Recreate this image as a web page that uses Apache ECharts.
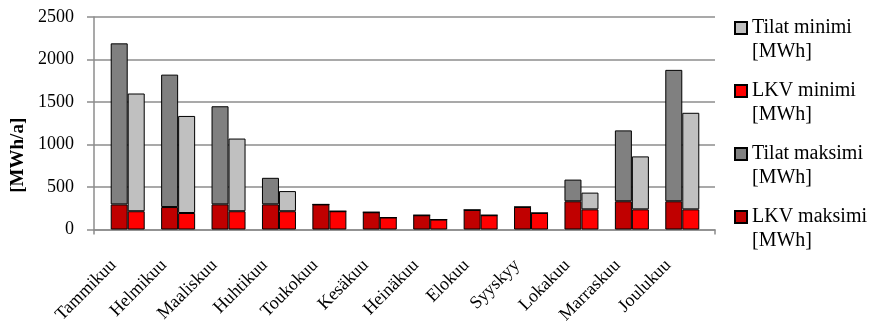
<!DOCTYPE html>
<html>
<head>
<meta charset="utf-8">
<script src="https://cdn.jsdelivr.net/npm/echarts@6/dist/echarts.min.js"></script>
<style>
html, body { margin: 0; padding: 0; background: #fff; }
#chart { width: 872px; height: 323px; }
</style>
</head>
<body>
<div id="chart"></div>
<script>
// months on the category axis
var months = ['Tammikuu', 'Helmikuu', 'Maaliskuu', 'Huhtikuu', 'Toukokuu', 'Kesäkuu',
  'Heinäkuu', 'Elokuu', 'Syyskyy', 'Lokakuu', 'Marraskuu', 'Joulukuu']

// values (MWh)
var lkvMaksimi = [295, 264, 296, 296, 295, 203, 168, 230, 265, 332, 332, 332]
var tilatMaksimi = [1895, 1558, 1154, 312, 0, 0, 0, 0, 0, 255, 834, 1546]
var lkvMinimi = [215, 194, 215, 215, 215, 141, 117, 168, 194, 237, 237, 237]
var tilatMinimi = [1385, 1142, 855, 237, 0, 0, 0, 0, 0, 197, 623, 1136]

var yTicks = [0, 500, 1000, 1500, 2000, 2500]

var serif = 'Liberation Serif'
var axisGray = '#8c8c8c'
var border = { borderColor: '#000', borderWidth: 1 }

function bar(name, stack, data, color) {
  return {
    name: name,
    type: 'bar',
    stack: stack,
    data: data,
    xAxisIndex: 1,
    yAxisIndex: 1,
    barWidth: 17,
    barGap: '0%',
    itemStyle: Object.assign({ color: color }, border)
  }
}

var yMin = yTicks[0]
var yMax = yTicks[yTicks.length - 1]

var chart = echarts.init(document.getElementById('chart'))
chart.setOption({
  animation: false,
  textStyle: { fontFamily: serif },
  // grid 0 = frame (axes + gridlines), grid 1 = bars (Excel leaves extra room at both ends)
  grid: [
    { left: 94, right: 157, top: 17, bottom: 93.5, outerBoundsMode: 'none' },
    { left: 102.5, right: 164.5, top: 17, bottom: 93.5, outerBoundsMode: 'none' }
  ],
  legend: {
    orient: 'vertical',
    left: 734,
    top: -8,
    padding: 0,
    itemGap: -9,
    itemWidth: 12,
    itemHeight: 12,
    icon: 'rect',
    data: ['Tilat minimi', 'LKV minimi', 'Tilat maksimi', 'LKV maksimi'],
    formatter: function (n) { return '\n' + n + '\n[MWh]' },
    textStyle: { fontFamily: serif, fontSize: 20, color: '#000', lineHeight: 24 }
  },
  xAxis: [
    {
      // only the frame line with a small tick at each end
      gridIndex: 0,
      type: 'value',
      min: 0,
      max: 1,
      interval: 1,
      axisLine: { show: true, lineStyle: { color: axisGray, width: 1.5 } },
      axisTick: { show: true, length: 5, lineStyle: { color: axisGray, width: 1.5 } },
      axisLabel: { show: false },
      splitLine: { show: false }
    },
    {
      gridIndex: 1,
      type: 'category',
      data: months,
      axisLine: { show: false },
      axisTick: { show: false },
      axisLabel: {
        rotate: 45, fontSize: 18, color: '#000', fontFamily: serif,
        margin: 19, interval: 0, padding: [0, 20, 0, 0]
      }
    }
  ],
  yAxis: [
    {
      gridIndex: 0,
      type: 'value',
      min: yMin,
      max: yMax,
      interval: yTicks[1] - yTicks[0],
      name: '[MWh/a]',
      nameLocation: 'middle',
      nameGap: 66,
      nameTextStyle: { fontFamily: serif, fontSize: 19, fontWeight: 'bold', color: '#000', padding: [0, 64, 0, 0] },
      axisLine: { show: true, lineStyle: { color: axisGray, width: 1.5 } },
      axisTick: { show: true, length: 7, lineStyle: { color: axisGray, width: 1.5 } },
      axisLabel: { fontSize: 18, color: '#000', fontFamily: serif, margin: 20, formatter: function (v) { return String(v) } },
      splitLine: { lineStyle: { color: axisGray, width: 1.5 } }
    },
    {
      gridIndex: 1,
      type: 'value',
      min: yMin,
      max: yMax,
      show: false,
      splitLine: { show: false }
    }
  ],
  series: [
    bar('LKV maksimi', 'max', lkvMaksimi, '#c00000'),
    bar('Tilat maksimi', 'max', tilatMaksimi, '#808080'),
    bar('LKV minimi', 'min', lkvMinimi, '#ff0000'),
    bar('Tilat minimi', 'min', tilatMinimi, '#c0c0c0')
  ]
})
</script>
</body>
</html>
